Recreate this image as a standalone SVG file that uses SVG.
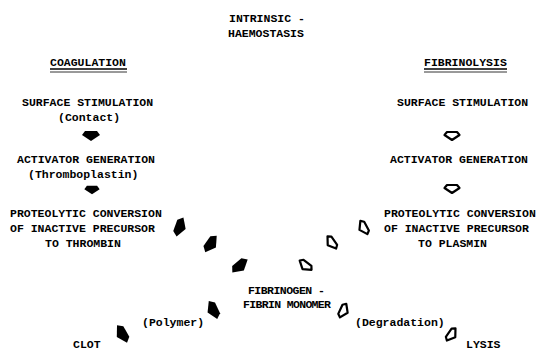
<svg xmlns="http://www.w3.org/2000/svg" width="536" height="350" viewBox="0 0 536 350">
<defs>
<style>
text{font-family:"Liberation Mono","DejaVu Sans Mono",monospace;font-weight:bold;font-size:11.5px;fill:#000}
.ul{stroke:#000;fill:none}
.f{fill:#000}
.h{fill:#fff;stroke:#000;stroke-width:2.2;stroke-linejoin:round}
</style>
<polygon id="arw" points="-6,-5 6,-5 9,-1 0,5 -9,-1"/>
<polygon id="arwd" points="-6,-5 6,-5 10,0 0,6 -10,0"/>
<polygon id="arwh" points="-5,-4 5,-4 7.5,-1 0,4 -7.5,-1"/>
</defs>
<rect width="536" height="350" fill="#fff"/>
<g id="title">
<text x="229" y="22">INTRINSIC -</text>
<text x="228" y="37">HAEMOSTASIS</text>
</g>
<g id="coagulation">
<text x="50" y="66">COAGULATION</text>
<line class="ul" x1="50" y1="69" x2="127" y2="69" stroke-width="1.5"/>
<line class="ul" x1="50" y1="72" x2="127" y2="72" stroke-width="0.8"/>
</g>
<g id="fibrinolysis">
<text x="424" y="66">FIBRINOLYSIS</text>
<line class="ul" x1="424" y1="69" x2="507" y2="69" stroke-width="1.5"/>
<line class="ul" x1="424" y1="72" x2="507" y2="72" stroke-width="0.8"/>
</g>
<g id="surface-left">
<text x="22" y="106">SURFACE STIMULATION</text>
<text x="58" y="121">(Contact)</text>
</g>
<g id="activator-left">
<text x="17" y="163">ACTIVATOR GENERATION</text>
<text x="28" y="178">(Thromboplastin)</text>
</g>
<g id="proteolytic-left">
<text x="10" y="217">PROTEOLYTIC CONVERSION</text>
<text x="10" y="232">OF INACTIVE PRECURSOR</text>
<text x="45" y="247">TO THROMBIN</text>
</g>
<g id="surface-right">
<text x="397" y="106">SURFACE STIMULATION</text>
</g>
<g id="activator-right">
<text x="390" y="163">ACTIVATOR GENERATION</text>
</g>
<g id="proteolytic-right">
<text x="384" y="217">PROTEOLYTIC CONVERSION</text>
<text x="384" y="232">OF INACTIVE PRECURSOR</text>
<text x="418" y="247">TO PLASMIN</text>
</g>
<g id="fibrinogen">
<text x="248" y="294" textLength="77" lengthAdjust="spacing">FIBRINOGEN -</text>
<text x="243" y="308" textLength="88" lengthAdjust="spacing">FIBRIN MONOMER</text>
</g>
<g id="clot">
<text x="142" y="326">(Polymer)</text>
<text x="73" y="348">CLOT</text>
</g>
<g id="lysis">
<text x="355" y="326">(Degradation)</text>
<text x="466" y="348">LYSIS</text>
</g>
<g id="connectors">
<use href="#arw" class="f" transform="translate(91,136)"/>
<use href="#arw" class="f" transform="translate(92,190) scale(0.85)"/>
<use href="#arwd" class="f" transform="translate(180,227) rotate(-70)"/>
<use href="#arwd" class="f" transform="translate(211,244) rotate(-55)"/>
<use href="#arwd" class="f" transform="translate(240,266) rotate(-40)"/>
<use href="#arwd" class="f" transform="translate(213,310) rotate(65)"/>
<use href="#arwd" class="f" transform="translate(122,334) rotate(60)"/>
<use href="#arwh" class="h" transform="translate(452,136)"/>
<use href="#arwh" class="h" transform="translate(452,189)"/>
<use href="#arwh" class="h" transform="translate(363,228) rotate(62)"/>
<use href="#arwh" class="h" transform="translate(331,243) rotate(55)"/>
<use href="#arwh" class="h" transform="translate(305,266) rotate(38)"/>
<use href="#arwh" class="h" transform="translate(344,311) rotate(-65)"/>
<use href="#arwh" class="h" transform="translate(452,335) rotate(-55)"/>
</g>
</svg>
